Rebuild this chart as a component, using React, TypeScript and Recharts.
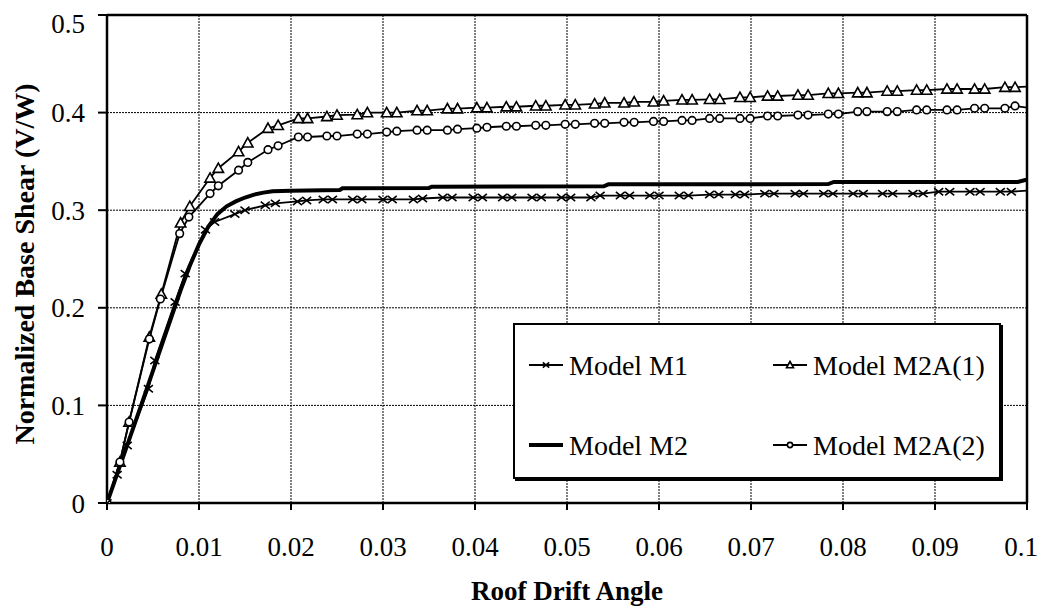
import React from "react";
import { LineChart, Line, XAxis, YAxis, CartesianGrid, ReferenceLine } from "recharts";

// roof drift angle ticks / base shear ticks
const driftTicks = [0, 0.01, 0.02, 0.03, 0.04, 0.05, 0.06, 0.07, 0.08, 0.09, 0.1];
const shearTicks = [0, 0.1, 0.2, 0.3, 0.4, 0.5];

const seriesNames = ["Model M1", "Model M2", "Model M2A(1)", "Model M2A(2)"];

// [drift, V/W]
const m1Points: [number, number][] = [
  [0, 0], [0.0011, 0.029], [0.0022, 0.059], [0.0045, 0.117], [0.0052, 0.146],
  [0.0074, 0.206], [0.0085, 0.235], [0.0107, 0.28], [0.0117, 0.288], [0.0139, 0.296],
  [0.015, 0.3], [0.0172, 0.305], [0.0183, 0.307], [0.0207, 0.309], [0.0217, 0.31],
  [0.0235, 0.311], [0.0245, 0.311], [0.0267, 0.311], [0.0277, 0.311], [0.03, 0.311],
  [0.031, 0.311], [0.0333, 0.311], [0.0343, 0.312], [0.0365, 0.313], [0.0375, 0.313],
  [0.0398, 0.313], [0.0408, 0.313], [0.043, 0.313], [0.044, 0.313], [0.0462, 0.313],
  [0.0472, 0.313], [0.0494, 0.313], [0.0504, 0.313], [0.0526, 0.313], [0.0536, 0.315],
  [0.0558, 0.315], [0.0568, 0.315], [0.059, 0.315], [0.06, 0.315], [0.0622, 0.315],
  [0.0632, 0.315], [0.0655, 0.316], [0.0665, 0.316], [0.0683, 0.316], [0.0693, 0.316],
  [0.0715, 0.317], [0.0725, 0.317], [0.0748, 0.317], [0.0757, 0.317], [0.0779, 0.317],
  [0.0789, 0.317], [0.0811, 0.317], [0.0822, 0.317], [0.0843, 0.317], [0.0854, 0.317],
  [0.0876, 0.317], [0.0887, 0.317], [0.0904, 0.319], [0.0916, 0.319], [0.0938, 0.319],
  [0.0949, 0.319], [0.0971, 0.319], [0.0983, 0.319], [0.1, 0.32],
];

const m2Points: [number, number][] = [
  [0, 0], [0.002, 0.054], [0.004, 0.108], [0.006, 0.163], [0.008, 0.218],
  [0.009, 0.243], [0.01, 0.265], [0.011, 0.283], [0.012, 0.296], [0.013, 0.304],
  [0.014, 0.309], [0.015, 0.313], [0.016, 0.316], [0.017, 0.318], [0.018, 0.3195],
  [0.02, 0.32], [0.0253, 0.3207], [0.0256, 0.3225], [0.035, 0.3228], [0.0353, 0.324],
  [0.054, 0.3245], [0.0545, 0.3265], [0.0784, 0.3268], [0.079, 0.329], [0.099, 0.329],
  [0.0998, 0.331], [0.1, 0.331],
];

const m2a1Points: [number, number][] = [
  [0, 0], [0.0014, 0.042], [0.0024, 0.083], [0.0046, 0.17], [0.0059, 0.214],
  [0.008, 0.287], [0.009, 0.304], [0.0112, 0.333], [0.0121, 0.343], [0.0143, 0.36],
  [0.0153, 0.369], [0.0175, 0.384], [0.0186, 0.387], [0.0208, 0.394], [0.0218, 0.394],
  [0.0239, 0.396], [0.025, 0.3975], [0.0272, 0.398], [0.0283, 0.4], [0.0304, 0.4],
  [0.0315, 0.4], [0.0337, 0.402], [0.0348, 0.402], [0.037, 0.404], [0.0381, 0.404],
  [0.0402, 0.405], [0.0413, 0.405], [0.0434, 0.406], [0.0445, 0.406], [0.0466, 0.407],
  [0.0477, 0.407], [0.0498, 0.408], [0.0509, 0.408], [0.053, 0.409], [0.0541, 0.41],
  [0.0562, 0.41], [0.0573, 0.411], [0.0594, 0.411], [0.0605, 0.412], [0.0625, 0.413],
  [0.0636, 0.413], [0.0655, 0.4136], [0.0666, 0.4136], [0.0688, 0.4157], [0.0699, 0.4157],
  [0.0718, 0.417], [0.0729, 0.417], [0.0751, 0.418], [0.0762, 0.418], [0.0784, 0.4197],
  [0.0795, 0.4197], [0.0816, 0.4204], [0.0826, 0.4204], [0.0848, 0.4221], [0.0859, 0.4221],
  [0.088, 0.4231], [0.0891, 0.4231], [0.0913, 0.4242], [0.0924, 0.4242], [0.0943, 0.4242],
  [0.0954, 0.4242], [0.0976, 0.426], [0.0987, 0.426], [0.1, 0.4266],
];

const m2a2Points: [number, number][] = [
  [0, 0], [0.0014, 0.042], [0.0024, 0.083], [0.0046, 0.168], [0.0058, 0.209],
  [0.0079, 0.276], [0.0089, 0.293], [0.0112, 0.317], [0.0121, 0.325], [0.0143, 0.341],
  [0.0153, 0.349], [0.0175, 0.362], [0.0186, 0.366], [0.0208, 0.375], [0.0218, 0.375],
  [0.0239, 0.376], [0.025, 0.376], [0.0272, 0.378], [0.0283, 0.378], [0.0304, 0.38],
  [0.0315, 0.381], [0.0337, 0.382], [0.0348, 0.382], [0.037, 0.382], [0.0381, 0.383],
  [0.0402, 0.384], [0.0413, 0.385], [0.0434, 0.386], [0.0445, 0.386], [0.0466, 0.387],
  [0.0477, 0.387], [0.0498, 0.388], [0.0509, 0.388], [0.053, 0.389], [0.0541, 0.389],
  [0.0562, 0.39], [0.0573, 0.39], [0.0594, 0.391], [0.0605, 0.391], [0.0625, 0.392],
  [0.0636, 0.392], [0.0655, 0.394], [0.0666, 0.394], [0.0688, 0.394], [0.0699, 0.394],
  [0.0718, 0.3965], [0.0729, 0.3965], [0.0751, 0.3975], [0.0762, 0.3975], [0.0784, 0.3985],
  [0.0795, 0.3985], [0.0816, 0.401], [0.0826, 0.401], [0.0848, 0.401], [0.0859, 0.401],
  [0.088, 0.4027], [0.0891, 0.4027], [0.0913, 0.4027], [0.0924, 0.4027], [0.0943, 0.4044],
  [0.0954, 0.4044], [0.0976, 0.4044], [0.0987, 0.4068], [0.1, 0.405],
];

const toRows = (pts: [number, number][]) => pts.map(([d, v]) => ({ d, v }));

const FONT = '"Liberation Serif", "Times New Roman", serif';

// markers
const crossShape = (cx: number, cy: number, s: number, key?: any) => (
  <path
    key={key}
    d={`M${cx - s},${cy - s * 0.8}L${cx + s},${cy + s * 0.8}M${cx - s},${cy + s * 0.8}L${cx + s},${cy - s * 0.8}`}
    stroke="#000"
    strokeWidth={1.6}
    fill="none"
  />
);
const triShape = (cx: number, cy: number, s: number, key?: any) => (
  <path
    key={key}
    d={`M${cx},${cy - s}L${cx + s},${cy + s * 0.8}L${cx - s},${cy + s * 0.8}Z`}
    stroke="#000"
    strokeWidth={1.6}
    fill="#fff"
  />
);
const circShape = (cx: number, cy: number, r: number, key?: any) => (
  <circle key={key} cx={cx} cy={cy} r={r} stroke="#000" strokeWidth={1.6} fill="#fff" />
);

const makeDot = (kind: "x" | "tri" | "circ") => (props: any) => {
  const { cx, cy, index, payload } = props;
  const key = `${kind}-${index}`;
  if (cx == null || cy == null || (payload && payload.d >= 0.1)) return <g key={key} />;
  if (kind === "x") return crossShape(cx, cy, 4.5, key);
  if (kind === "tri") return triShape(cx, cy, 5.2, key);
  return circShape(cx, cy, 3.8, key);
};

const LegendBox = () => {
  const rowY = [40, 120];
  const items = [
    { name: seriesNames[0], col: 0, row: 0, kind: "x" },
    { name: seriesNames[2], col: 1, row: 0, kind: "tri" },
    { name: seriesNames[1], col: 0, row: 1, kind: "thick" },
    { name: seriesNames[3], col: 1, row: 1, kind: "circ" },
  ];
  const colX = [14, 258];
  return (
    <div
      style={{
        position: "absolute",
        left: 505,
        top: 315,
        width: 484,
        height: 152,
        border: "2px solid #000",
        background: "#fff",
        boxShadow: "2px 2px 0 #000",
      }}
    >
      <svg width={484} height={152} style={{ position: "absolute", left: 0, top: 0 }}>
        {items.map((it, i) => {
          const x0 = colX[it.col];
          const y = rowY[it.row];
          const mid = x0 + 17;
          return (
            <g key={i}>
              <line x1={x0} x2={x0 + 34} y1={y} y2={y} stroke="#000" strokeWidth={it.kind === "thick" ? 4 : 1.8} />
              {it.kind === "x" && crossShape(mid, y, 3.2)}
              {it.kind === "tri" && triShape(mid, y, 3.5)}
              {it.kind === "circ" && circShape(mid, y, 2.6)}
              <text x={x0 + 40} y={y} dy="0.35em" fontFamily={FONT} fontSize={28} fill="#000">
                {it.name}
              </text>
            </g>
          );
        })}
      </svg>
    </div>
  );
};

export default function App() {
  return (
    <div style={{ position: "relative", width: 1030, height: 598, fontFamily: FONT }}>
      <LineChart
        width={1030}
        height={598}
        margin={{ top: 7, right: 11, left: 0, bottom: 0 }}
        style={{ fontFamily: FONT }}
      >
        <CartesianGrid stroke="#000" strokeWidth={1} strokeDasharray="2 1" />
        <XAxis
          type="number"
          dataKey="d"
          domain={[0, 0.1]}
          ticks={driftTicks}
          tickFormatter={(v: number) => String(v)}
          height={103}
          tickSize={7}
          tickMargin={27}
          axisLine={{ stroke: "#000", strokeWidth: 2.5 }}
          tickLine={{ stroke: "#000", strokeWidth: 2 }}
          tick={{ fill: "#000", fontSize: 27, fontFamily: FONT }}
          allowDataOverflow
        />
        <YAxis
          type="number"
          domain={[0, 0.5]}
          ticks={shearTicks}
          tickFormatter={(v: number) => String(v)}
          width={99}
          tickSize={9}
          tickMargin={13}
          axisLine={{ stroke: "#000", strokeWidth: 2.5 }}
          tickLine={{ stroke: "#000", strokeWidth: 2 }}
          tick={{ fill: "#000", fontSize: 27, fontFamily: FONT }}
          allowDataOverflow
        />
        <ReferenceLine y={0.5} stroke="#000" strokeWidth={2.5} />
        <ReferenceLine x={0.1} stroke="#000" strokeWidth={2.5} />
        <Line
          data={toRows(m2Points)}
          dataKey="v"
          name={seriesNames[1]}
          type="linear"
          stroke="#000"
          strokeWidth={4}
          dot={false}
          isAnimationActive={false}
        />
        <Line
          data={toRows(m2a1Points)}
          dataKey="v"
          name={seriesNames[2]}
          type="linear"
          stroke="#000"
          strokeWidth={1.8}
          dot={makeDot("tri")}
          isAnimationActive={false}
        />
        <Line
          data={toRows(m2a2Points)}
          dataKey="v"
          name={seriesNames[3]}
          type="linear"
          stroke="#000"
          strokeWidth={1.8}
          dot={makeDot("circ")}
          isAnimationActive={false}
        />
        <Line
          data={toRows(m1Points)}
          dataKey="v"
          name={seriesNames[0]}
          type="linear"
          stroke="#000"
          strokeWidth={1.8}
          dot={makeDot("x")}
          isAnimationActive={false}
        />
      </LineChart>
      <LegendBox />
      <div
        style={{
          position: "absolute",
          left: 559,
          top: 583,
          transform: "translate(-50%, -50%)",
          fontWeight: "bold",
          fontSize: 27,
          lineHeight: 1,
          whiteSpace: "nowrap",
        }}
      >
        Roof Drift Angle
      </div>
      <div
        style={{
          position: "absolute",
          left: 17,
          top: 256,
          transform: "translate(-50%, -50%) rotate(-90deg)",
          fontWeight: "bold",
          fontSize: 28,
          lineHeight: 1,
          whiteSpace: "nowrap",
        }}
      >
        Normalized Base Shear (V/W)
      </div>
    </div>
  );
}
